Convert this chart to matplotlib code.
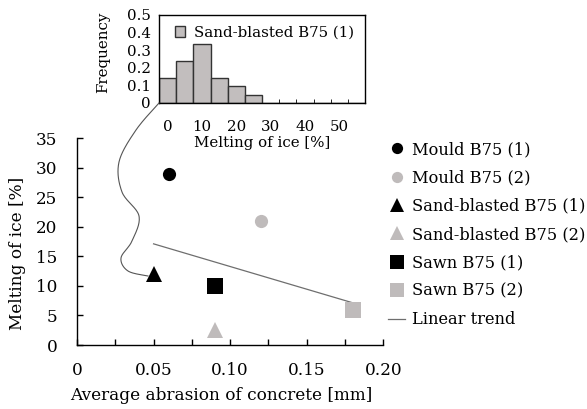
import numpy as np
import matplotlib
matplotlib.use("Agg")
import matplotlib.pyplot as plt
from matplotlib.lines import Line2D
from matplotlib.patches import Patch

plt.rcParams['font.family'] = ['DejaVu Serif']
plt.rcParams['mathtext.fontset'] = 'dejavuserif'

# ---- data ----
series_labels = ["Mould B75 (1)", "Mould B75 (2)", "Sand-blasted B75 (1)",
                 "Sand-blasted B75 (2)", "Sawn B75 (1)", "Sawn B75 (2)"]
abrasion = [0.06, 0.12, 0.05, 0.09, 0.09, 0.18]
melting = [29, 21, 12, 2.5, 10, 6]

hist_centers = [0, 5, 10, 15, 20, 25, 30, 35, 40, 45, 50, 55]
hist_freq = [0.143, 0.238, 0.333, 0.143, 0.095, 0.048, 0, 0, 0, 0, 0, 0]
hist_label = "Sand-blasted B75 (1)"

x_ticks = [0, 0.05, 0.10, 0.15, 0.20]
x_ticklabels = ["0", "0.05", "0.10", "0.15", "0.20"]
y_ticks = [0, 5, 10, 15, 20, 25, 30, 35]
hx_ticks = [0, 10, 20, 30, 40, 50]
hy_ticks = [0, 0.1, 0.2, 0.3, 0.4, 0.5]
hy_ticklabels = ["0", "0.1", "0.2", "0.3", "0.4", "0.5"]

# ---- style ----
BLACK = "#000000"
GRAY = "#bfbbbb"
colors = [BLACK, GRAY, BLACK, GRAY, BLACK, GRAY]
markers = ["o", "o", "^", "^", "s", "s"]
sizes = [9.5, 9.5, 11.5, 11.5, 11.5, 11.5]
FS = 12.2
LFS = 11.7
IFS = 10.8

W, H = 587, 409
fig = plt.figure(figsize=(W / 100, H / 100), dpi=100)

# main axes
L, R, T, B = 77, 383.3, 138.3, 345
ax = fig.add_axes([L / W, 1 - B / H, (R - L) / W, (B - T) / H])
for x, y, c, m, s in zip(abrasion, melting, colors, markers, sizes):
    ax.plot([x], [y], linestyle='none', marker=m, color=c, markersize=s,
            markeredgewidth=0, zorder=3)
coef = np.polyfit(abrasion, melting, 1)
xt = np.array([min(abrasion), max(abrasion)])
ax.plot(xt, np.polyval(coef, xt), color="#6e6e6e", lw=0.9, zorder=2)

ax.set_xlim(0, 0.20)
ax.set_ylim(0, 35)
ax.set_xticks(x_ticks)
ax.set_xticklabels(x_ticklabels, fontsize=FS)
ax.set_xticks(np.arange(0.025, 0.2, 0.05), minor=True)
ax.set_yticks(y_ticks)
ax.set_yticklabels([str(v) for v in y_ticks], fontsize=FS)
ax.tick_params(which='both', direction='in', length=4, width=1.0)
ax.tick_params(axis='y', pad=14)
ax.tick_params(axis='x', which='major', pad=12)
for sp in ['top', 'right']:
    ax.spines[sp].set_visible(False)
for sp in ['left', 'bottom']:
    ax.spines[sp].set_linewidth(1.0)
ax.set_xlabel("Average abrasion of concrete [mm]", fontsize=FS)
ax.xaxis.set_label_coords(0.47, -0.203)
ax.set_ylabel("Melting of ice [%]", fontsize=FS)
ax.yaxis.set_label_coords(-0.165, 0.445)

# legend
handles = [Line2D([], [], linestyle='none', marker=m, color=c,
                  markersize=s * 0.85, markeredgewidth=0)
           for m, c, s in zip(markers, colors, sizes)]
handles.append(Line2D([], [], color="#6e6e6e", lw=0.9))
labels = series_labels + ["Linear trend"]
fig.legend(handles, labels, loc='upper left',
           bbox_to_anchor=(388 / W, 1 - 141 / H), frameon=False,
           fontsize=LFS, handlelength=1.05, handletextpad=0.4,
           labelspacing=0.7, borderpad=0, borderaxespad=0)

# inset histogram
iL, iR, iT, iB = 159, 365, 15, 103
ax2 = fig.add_axes([iL / W, 1 - iB / H, (iR - iL) / W, (iB - iT) / H])
ax2.bar(hist_centers, hist_freq, width=5, color="#c2bebe",
        edgecolor="#333333", linewidth=1.0, align='center', zorder=2)
ax2.set_xlim(-2.5, 57.5)
ax2.set_ylim(0, 0.5)
ax2.set_xticks(hx_ticks)
ax2.set_xticklabels([str(v) for v in hx_ticks], fontsize=IFS)
ax2.set_xticks(np.arange(2.5, 57.5, 5), minor=True)
ax2.set_yticks(hy_ticks)
ax2.set_yticklabels(hy_ticklabels, fontsize=IFS)
ax2.tick_params(axis='x', which='major', length=0, pad=12)
ax2.tick_params(axis='x', which='minor', direction='in', length=3)
ax2.tick_params(axis='y', direction='in', length=0, pad=6)
for sp in ax2.spines.values():
    sp.set_linewidth(1.0)
ax2.set_xlabel("Melting of ice [%]", fontsize=IFS, labelpad=2)
ax2.set_ylabel("Frequency", fontsize=IFS)
ax2.yaxis.set_label_coords(-0.235, 0.58)
ax2.legend([Patch(facecolor="#c2bebe", edgecolor="#333333", linewidth=1.0)],
           [hist_label], loc='upper right', frameon=False,
           fontsize=IFS, handlelength=0.7, handleheight=0.7,
           handletextpad=0.6, borderaxespad=0.3)

# connector curve (decorative), pixel coordinates from top-left
pts = np.array([(159, 103), (159, 103), (136, 130), (119, 162), (122, 192),
                (139, 216), (132, 241), (121, 258), (128, 271), (148, 276),
                (148, 276)], dtype=float)
curve = []
for i in range(1, len(pts) - 2):
    p0, p1, p2, p3 = pts[i - 1], pts[i], pts[i + 1], pts[i + 2]
    for t in np.linspace(0, 1, 20):
        t2, t3 = t * t, t * t * t
        curve.append(0.5 * ((2 * p1) + (-p0 + p2) * t +
                            (2 * p0 - 5 * p1 + 4 * p2 - p3) * t2 +
                            (-p0 + 3 * p1 - 3 * p2 + p3) * t3))
curve = np.array(curve)
fig.add_artist(Line2D(curve[:, 0] / W, 1 - curve[:, 1] / H,
                      transform=fig.transFigure, color="#555555", lw=0.8))

fig.savefig("out.png", dpi=100)
